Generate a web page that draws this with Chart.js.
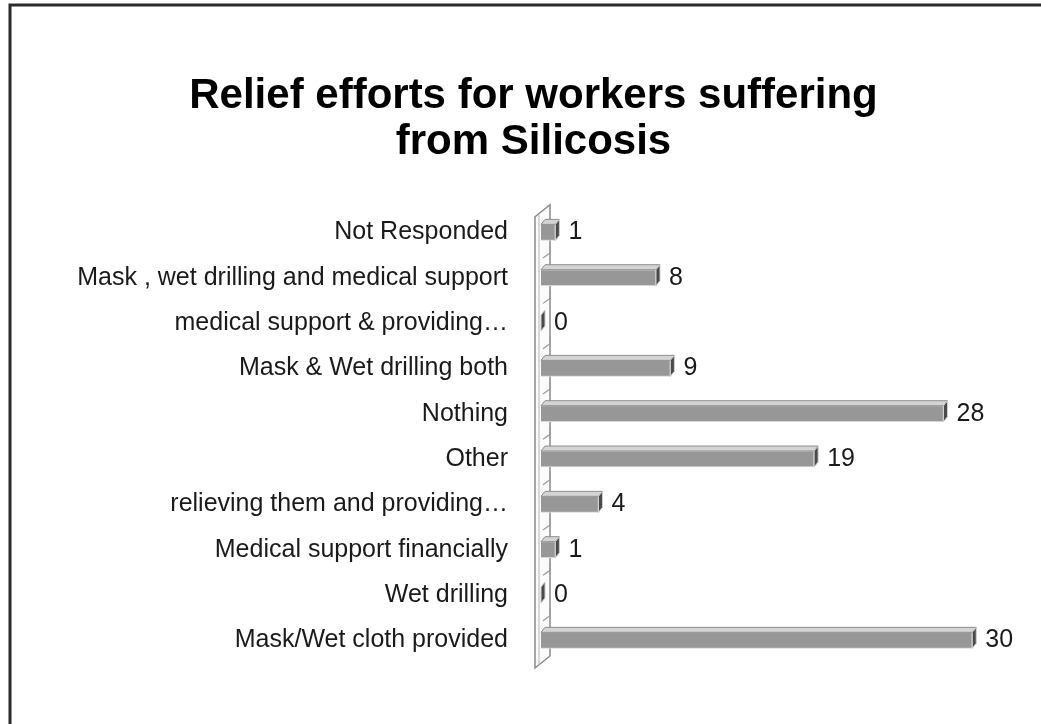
<!DOCTYPE html>
<html>
<head>
<meta charset="utf-8">
<title>Relief efforts for workers suffering from Silicosis</title>
<script src="https://cdn.jsdelivr.net/npm/chart.js@4.4.1/dist/chart.umd.min.js"></script>
<style>
  html, body { margin: 0; padding: 0; background: #fff; }
  #wrap { position: relative; width: 1041px; height: 724px; }
</style>
</head>
<body>
<div id="wrap"><canvas id="reliefChart" width="1041" height="724"></canvas></div>
<script>
// ---- data ----
const categorias = [
  'Not Responded',
  'Mask , wet drilling and medical support',
  'medical support & providing…',
  'Mask & Wet drilling both',
  'Nothing',
  'Other',
  'relieving them and providing…',
  'Medical support financially',
  'Wet drilling',
  'Mask/Wet cloth provided'
];
const respostas = [1, 8, 0, 9, 28, 19, 4, 1, 0, 30];
const tituloLinhas = ['Relief efforts for workers suffering', 'from Silicosis'];
const eixoMax = 32;

const FONT = '"Liberation Sans", Arial, sans-serif';
const DX = 4, DY = 5;   // depth of the pseudo-3D faces

// white page + dark frame on the left and top
const framePlugin = {
  id: 'frame',
  beforeDraw(chart) {
    const { ctx, width, height } = chart;
    ctx.save();
    ctx.fillStyle = '#fff';
    ctx.fillRect(0, 0, width, height);
    ctx.strokeStyle = '#2b2b2b';
    ctx.lineWidth = 3;
    ctx.beginPath();
    ctx.moveTo(10, height);
    ctx.lineTo(10, 5);
    ctx.lineTo(width, 5);
    ctx.stroke();
    ctx.restore();
  }
};

// thin slanted wall behind the bars
const wallPlugin = {
  id: 'wall',
  beforeDatasetsDraw(chart) {
    const { ctx, chartArea: a } = chart;
    const L = a.left, T = a.top, B = a.bottom;
    ctx.save();
    ctx.fillStyle = '#fbfbfb';
    ctx.strokeStyle = '#8a8a8a';
    ctx.lineWidth = 1.5;
    ctx.beginPath();
    ctx.moveTo(L - 6, T + 7);
    ctx.lineTo(L + 9, T - 5);
    ctx.lineTo(L + 9, B - 7);
    ctx.lineTo(L - 6, B + 5);
    ctx.closePath();
    ctx.fill();
    ctx.stroke();
    // inner edge of the slab
    ctx.strokeStyle = '#b5b5b5';
    ctx.lineWidth = 1;
    ctx.beginPath();
    ctx.moveTo(L - 2, T + 5);
    ctx.lineTo(L - 2, B + 2);
    ctx.stroke();
    // little floor marks between the categories
    const y = chart.scales.y;
    ctx.strokeStyle = '#9a9a9a';
    ctx.lineWidth = 1.2;
    for (let i = 1; i < categorias.length; i++) {
      const yb = (y.getPixelForTick(i - 1) + y.getPixelForTick(i)) / 2;
      ctx.beginPath();
      ctx.moveTo(L + 9, yb - 10);
      ctx.lineTo(L + 9, yb - 2);
      ctx.lineTo(L + 2, yb + 3);
      ctx.stroke();
    }
    ctx.restore();
  }
};

// top and end faces of each bar, plus value labels
const faces3d = {
  id: 'faces3d',
  afterDatasetsDraw(chart) {
    const { ctx } = chart;
    const meta = chart.getDatasetMeta(0);
    ctx.save();
    meta.data.forEach((bar, i) => {
      const { x, y, base, height } = bar.getProps(['x', 'y', 'base', 'height'], true);
      const top = y - height / 2, bottom = y + height / 2;
      // top face
      if (x > base) {
        ctx.fillStyle = '#d4d4d4';
        ctx.strokeStyle = '#8f8f8f';
        ctx.lineWidth = 1;
        ctx.beginPath();
        ctx.moveTo(base, top);
        ctx.lineTo(base + DX, top - DY);
        ctx.lineTo(x + DX, top - DY);
        ctx.lineTo(x, top);
        ctx.closePath();
        ctx.fill();
        ctx.stroke();
      }
      // end face
      ctx.fillStyle = '#4a4a4a';
      ctx.strokeStyle = '#cfcfcf';
      ctx.beginPath();
      ctx.moveTo(x, top);
      ctx.lineTo(x + DX, top - DY);
      ctx.lineTo(x + DX, bottom - DY);
      ctx.lineTo(x, bottom);
      ctx.closePath();
      ctx.fill();
      ctx.stroke();

      ctx.fillStyle = '#1a1a1a';
      ctx.font = '25px ' + FONT;
      ctx.textAlign = 'left';
      ctx.textBaseline = 'middle';
      ctx.fillText(String(respostas[i]), x + DX + 9, y);
    });
    ctx.restore();
  }
};

new Chart(document.getElementById('reliefChart'), {
  type: 'bar',
  data: {
    labels: categorias,
    datasets: [{
      data: respostas,
      backgroundColor: '#979797',
      borderColor: '#d6d6d6',
      borderWidth: 1,
      barThickness: 16
    }]
  },
  options: {
    indexAxis: 'y',
    responsive: false,
    animation: false,
    layout: { padding: { left: 66, right: 40, top: 0, bottom: 61 } },
    plugins: {
      legend: { display: false },
      tooltip: { enabled: false },
      title: {
        display: true,
        text: tituloLinhas,
        color: '#000',
        font: { family: FONT, size: 42, weight: 'bold', lineHeight: 1.08 },
        padding: { top: 74, bottom: 45 }
      }
    },
    scales: {
      x: { display: false, min: 0, max: eixoMax },
      y: {
        grid: { display: false, drawTicks: false },
        border: { display: false },
        ticks: {
          color: '#1a1a1a',
          padding: 33,
          font: { family: FONT, size: 25 },
          autoSkip: false
        },
        afterFit(scale) { scale.width = 475; }
      }
    }
  },
  plugins: [framePlugin, wallPlugin, faces3d]
});
</script>
</body>
</html>
